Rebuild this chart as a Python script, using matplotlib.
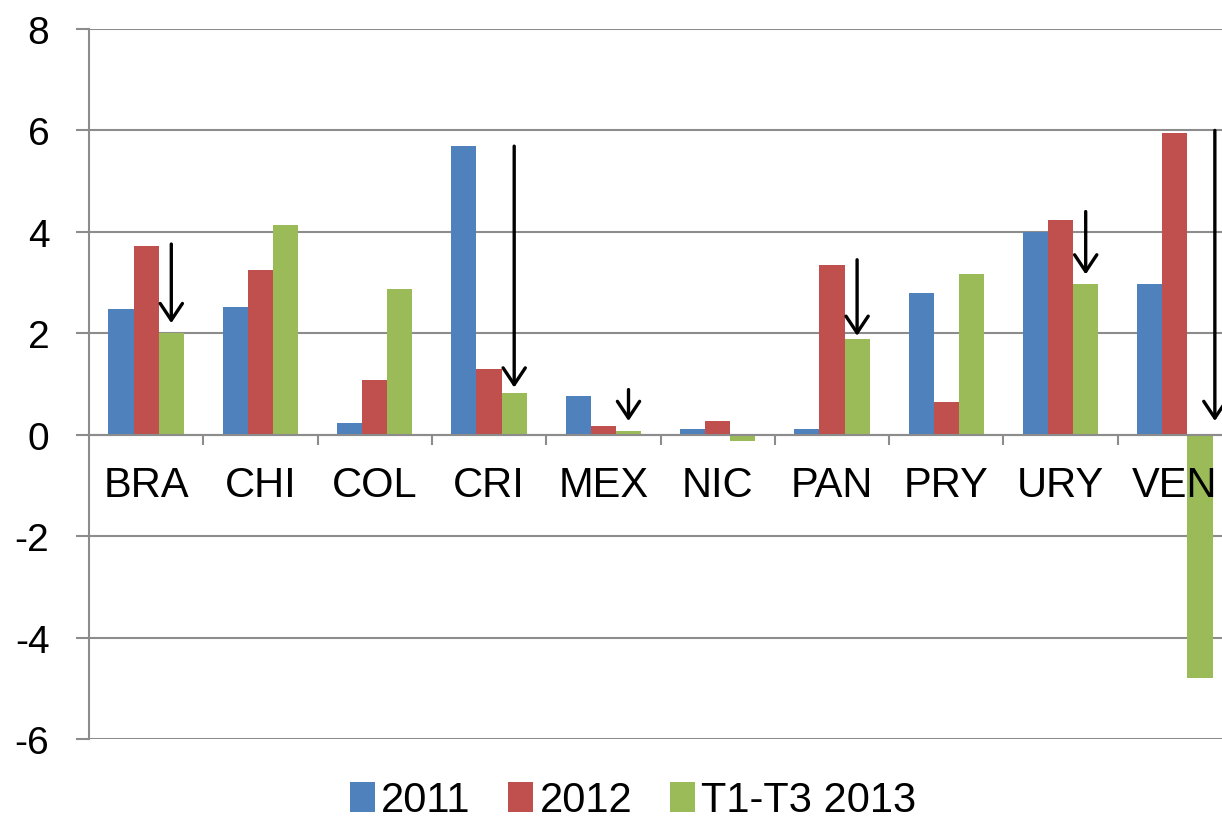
import numpy as np
import matplotlib.pyplot as plt
from matplotlib.ticker import FixedLocator

plt.rcParams['font.family'] = ['Liberation Sans', 'DejaVu Sans']
plt.rcParams['axes.unicode_minus'] = False

countries = ['BRA', 'CHI', 'COL', 'CRI', 'MEX', 'NIC', 'PAN', 'PRY', 'URY', 'VEN']
v2011 = [2.47, 2.51, 0.24, 5.69, 0.77, 0.12, 0.12, 2.80, 4.00, 2.97]
v2012 = [3.72, 3.25, 1.08, 1.29, 0.17, 0.28, 3.34, 0.65, 4.23, 5.95]
v2013 = [2.01, 4.14, 2.87, 0.82, 0.08, -0.13, 1.88, 3.16, 2.97, -4.80]
series_names = ['2011', '2012', 'T1-T3 2013']

# arrows drawn over the T1-T3 2013 bars
arrow_idx = [0, 3, 4, 6, 8, 9]
arrow_from = [3.76, 5.69, 0.89, 3.45, 4.40, 6.00]
arrow_to = [2.20, 0.93, 0.27, 1.95, 3.16, 0.27]
arrow_shift = [0, 0, 0, 0, 0, 0.13]

colors = ['#4F81BD', '#C0504D', '#9BBB59']
grid_c = '#8c8c8c'

fig = plt.figure(figsize=(12.22, 8.28), dpi=100)
ax = fig.add_axes([89 / 1222, 88 / 828, 1143 / 1222, 710 / 828])

yticks = np.arange(-6, 9, 2)
# grid drawn by hand so tick labels can sit on top of the bars
for yv in yticks:
    ax.axhline(yv, color=grid_c, lw=1.5, zorder=1)

x = np.arange(len(countries))
w = 0.22
for k, vals in enumerate([v2011, v2012, v2013]):
    ax.bar(x + (k - 1) * w, vals, w, color=colors[k], label=series_names[k], zorder=2)

for i, a, b, s in zip(arrow_idx, arrow_from, arrow_to, arrow_shift):
    xa = i + w + s
    ax.annotate('', xy=(xa, b), xytext=(xa, a),
                arrowprops=dict(arrowstyle='->,head_length=0.6,head_width=0.4',
                                color='black', lw=2.4, mutation_scale=20,
                                shrinkA=0, shrinkB=0), zorder=4)

ax.set_xlim(-0.5, len(countries) - 0.5)
ax.set_ylim(-6, 8)
ax.set_yticks(yticks)
ax.set_axisbelow(False)

ax.spines['top'].set_visible(False)
ax.spines['right'].set_visible(False)
ax.spines['left'].set_color(grid_c)
ax.spines['left'].set_linewidth(1.5)
ax.spines['bottom'].set_position(('data', 0))
ax.spines['bottom'].set_color(grid_c)
ax.spines['bottom'].set_linewidth(1.5)

ax.set_xticks(x)
ax.set_xticklabels(countries)
ax.xaxis.set_minor_locator(FixedLocator(np.arange(0.5, len(countries), 1)))
ax.tick_params(axis='x', which='major', length=0, pad=22, labelsize=30)
ax.tick_params(axis='x', which='minor', length=7, width=1.5, color=grid_c, direction='out')
ax.tick_params(axis='y', length=9.5, width=1.5, color=grid_c, pad=19, labelsize=28)

fig.legend(loc='lower center', bbox_to_anchor=(0.518, -0.012), ncol=3, frameon=False,
           fontsize=30, handlelength=0.6, handleheight=0.72, handletextpad=0.15,
           columnspacing=0.9, borderaxespad=0)

fig.savefig('out.png', dpi=100)
